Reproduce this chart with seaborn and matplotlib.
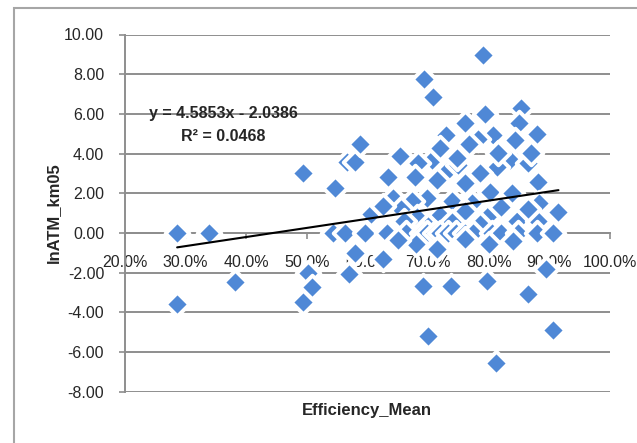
import numpy as np
import pandas as pd
import matplotlib
matplotlib.use("Agg")
import matplotlib.pyplot as plt
import matplotlib.patches as patches
from matplotlib.ticker import PercentFormatter, FormatStrFormatter, MultipleLocator
import seaborn as sns

# values (efficiency as fraction, lnATM_km05)
eff_outer = [0.286, 0.339, 0.286, 0.382, 0.493, 0.502, 0.509, 0.494, 0.547, 0.567,
             0.580, 0.588, 0.570, 0.580, 0.626]
ln_outer = [0.00, 0.00, -3.59, -2.46, -3.50, -2.00, -2.72, 3.00, 2.24, 3.55,
            3.55, 4.46, -2.06, -1.00, -1.30]

eff_upper = [0.791, 0.693, 0.708, 0.853, 0.794, 0.761, 0.850, 0.880, 0.730, 0.807,
             0.783, 0.844, 0.768, 0.654, 0.706, 0.835, 0.683, 0.864, 0.814, 0.733,
             0.786, 0.750, 0.748, 0.870, 0.815, 0.720, 0.634, 0.679, 0.715, 0.882,
             0.760, 0.802, 0.838, 0.642, 0.698, 0.673, 0.740, 0.773, 0.883, 0.915,
             0.682, 0.847, 0.882, 0.720, 0.760, 0.800, 0.655, 0.865, 0.605, 0.625,
             0.785, 0.820, 0.740, 0.700, 0.660]
ln_upper = [8.97, 7.75, 6.84, 6.28, 5.98, 5.52, 5.52, 5.00, 4.92, 4.92,
            4.75, 4.70, 4.50, 3.90, 3.70, 3.70, 3.50, 3.50, 3.30, 3.15,
            3.00, 3.40, 3.80, 4.05, 4.05, 4.30, 2.80, 2.80, 2.65, 2.55,
            2.50, 2.04, 2.00, 1.78, 1.78, 1.63, 1.63, 1.53, 1.53, 1.08,
            0.78, 0.60, 0.60, 0.90, 1.10, 0.90, 1.20, 1.20, 0.95, 1.35,
            0.45, 1.30, 0.55, 0.35, 0.60]

eff_zero = [0.543, 0.563, 0.596, 0.632, 0.664, 0.690, 0.698, 0.712, 0.720, 0.733,
            0.746, 0.760, 0.774, 0.806, 0.820, 0.849, 0.880, 0.906]
ln_zero = [0.0] * len(eff_zero)

eff_lower = [0.680, 0.715, 0.800, 0.760, 0.840, 0.650, 0.692, 0.738, 0.797, 0.865,
             0.895, 0.700, 0.906, 0.812]
ln_lower = [-0.55, -0.80, -0.55, -0.30, -0.40, -0.35, -2.65, -2.65, -2.40, -3.10,
            -1.80, -5.20, -4.90, -6.55]

# trend line as printed on the chart
slope = 4.5853
intercept = -2.0386
r_squared = 0.0468

df = pd.DataFrame({
    "Efficiency_Mean": eff_outer + eff_upper + eff_zero + eff_lower,
    "lnATM_km05": ln_outer + ln_upper + ln_zero + ln_lower,
})

sns.set_style("white")
plt.rcParams['font.family'] = ['Liberation Sans', 'DejaVu Sans']
plt.rcParams['axes.unicode_minus'] = False

grey = "#8e8e8e"
blue = "#4f88d6"

fig = plt.figure(figsize=(6.37, 4.43), dpi=100)
ax = fig.add_axes([125 / 637, 1 - 391.7 / 443, 485 / 637, 357.2 / 443])

# outer chart border
fig.patches.append(patches.Rectangle((14 / 637, -0.1), 1.2, 1 - 8 / 443 + 0.1,
                                     transform=fig.transFigure, fill=False,
                                     edgecolor="#a6a6a6", lw=1.5))

ax.set_xlim(0.2, 1.0)
ax.set_ylim(-8, 10)
ax.yaxis.set_major_locator(MultipleLocator(2))
ax.xaxis.set_major_locator(MultipleLocator(0.1))
ax.yaxis.set_major_formatter(FormatStrFormatter('%.2f'))
ax.xaxis.set_major_formatter(PercentFormatter(1.0, decimals=1))
ax.yaxis.grid(True, color=grey, lw=1.4, zorder=0)
ax.set_axisbelow(True)

for s in ["top", "right"]:
    ax.spines[s].set_visible(False)
ax.spines["bottom"].set_position(("data", 0))
ax.spines["bottom"].set_color(grey)
ax.spines["left"].set_color(grey)
ax.spines["bottom"].set_linewidth(1.4)
ax.spines["left"].set_linewidth(1.4)
ax.spines["bottom"].set_zorder(0.5)
ax.tick_params(axis="y", direction="out", length=4, width=1.2, color=grey,
               pad=11, labelsize=11.5, left=True)
ax.tick_params(axis="x", direction="out", length=4, width=1.2, color=grey,
               pad=12, labelsize=11.5, bottom=True)

sns.scatterplot(data=df, x="Efficiency_Mean", y="lnATM_km05", marker="D", s=145,
                color=blue, edgecolor="white", linewidth=2.8, zorder=3, ax=ax)
ax.set_xlabel("")
ax.set_ylabel("")

xs = np.array([df["Efficiency_Mean"].min(), df["Efficiency_Mean"].max()])
ax.plot(xs, slope * xs + intercept, color="black", lw=1.5, zorder=4)

ax.text(0.362, 6.03, f"y = {slope}x - {abs(intercept)}", ha="center", va="center",
        fontsize=11.5, fontweight="bold", zorder=5)
ax.text(0.362, 4.87, f"R² = {r_squared}", ha="center", va="center",
        fontsize=11.5, fontweight="bold", zorder=5)

fig.text(53 / 637, 1 - 213 / 443, "lnATM_km05", rotation=90, ha="center", va="center",
         fontsize=12, fontweight="bold")
fig.text(367 / 637, 1 - 410 / 443, "Efficiency_Mean", ha="center", va="center",
         fontsize=12, fontweight="bold")

fig.savefig("out.png", dpi=100)
